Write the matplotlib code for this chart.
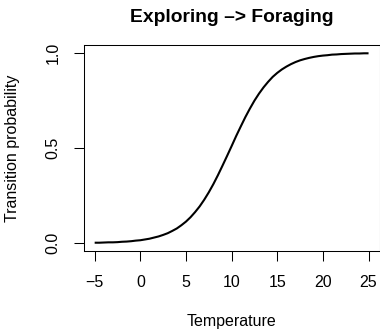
import matplotlib
matplotlib.use("Agg")
import matplotlib.pyplot as plt

# temperature grid and transition probability
temperature = [-5, -4.5, -4, -3.5, -3, -2.5, -2, -1.5, -1, -0.5,
               0, 0.5, 1, 1.5, 2, 2.5, 3, 3.5, 4, 4.5,
               5, 5.5, 6, 6.5, 7, 7.5, 8, 8.5, 9, 9.5,
               10, 10.5, 11, 11.5, 12, 12.5, 13, 13.5, 14, 14.5,
               15, 15.5, 16, 16.5, 17, 17.5, 18, 18.5, 19, 19.5,
               20, 20.5, 21, 21.5, 22, 22.5, 23, 23.5, 24, 24.5, 25]
prob = [0.002, 0.002, 0.003, 0.004, 0.004, 0.005, 0.007, 0.008, 0.010, 0.013,
        0.015, 0.019, 0.023, 0.029, 0.035, 0.043, 0.052, 0.064, 0.077, 0.094,
        0.113, 0.136, 0.163, 0.193, 0.228, 0.267, 0.310, 0.357, 0.407, 0.458,
        0.510, 0.563, 0.613, 0.662, 0.707, 0.749, 0.786, 0.819, 0.848, 0.874,
        0.895, 0.913, 0.928, 0.941, 0.952, 0.961, 0.968, 0.974, 0.979, 0.983,
        0.986, 0.988, 0.991, 0.992, 0.994, 0.995, 0.996, 0.997, 0.997, 0.998, 0.998]

xticks = [-5, 0, 5, 10, 15, 20, 25]
xticklabels = ["\u22125", "0", "5", "10", "15", "20", "25"]
yticks = [0.0, 0.5, 1.0]
yticklabels = ["0.0", "0.5", "1.0"]

plt.rcParams['font.family'] = ['Liberation Sans', 'DejaVu Sans']

fig = plt.figure(figsize=(3.8, 3.31), dpi=100)
ax = fig.add_axes([0.2203, 0.2426, 0.7784, 0.6205])

ax.plot(temperature, prob, color="black", lw=1.5, solid_capstyle="butt")

ax.set_xlim(-6.2, 26.2)
ax.set_ylim(-0.04, 1.04)

ax.set_xticks(xticks)
ax.set_xticklabels(xticklabels)
ax.set_yticks(yticks)
ax.set_yticklabels(yticklabels, rotation=90, va="center")

ax.tick_params(axis="both", direction="out", length=7.5, width=0.75,
               labelsize=11.5, color="black")
ax.tick_params(axis="x", pad=10)
ax.tick_params(axis="y", pad=9)

for s in ax.spines.values():
    s.set_linewidth(0.75)

ax.set_xlabel("Temperature", fontsize=11.5, va="center")
ax.xaxis.set_label_coords(0.5, -0.346)
ax.set_ylabel("Transition probability", fontsize=11.5, va="center")
ax.yaxis.set_label_coords(-0.242, 0.5)

fig.text(0.609, 1 - 17 / 331, "Exploring \u2013> Foraging", ha="center", va="center",
         fontsize=13.9, fontweight="bold")

fig.savefig("out.png", dpi=100)
